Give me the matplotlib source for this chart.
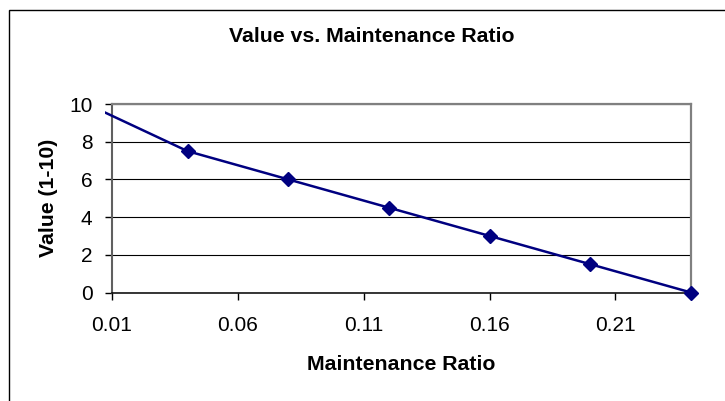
import matplotlib.pyplot as plt
from matplotlib.patches import Rectangle

plt.rcParams['font.family'] = ['Liberation Sans', 'DejaVu Sans']

# data
ratio = [0.0, 0.04, 0.08, 0.12, 0.16, 0.20, 0.24]
value = [10, 7.5, 6, 4.5, 3, 1.5, 0]
xticks = [0.01, 0.06, 0.11, 0.16, 0.21]
yticks = [0, 2, 4, 6, 8, 10]

fig = plt.figure(figsize=(7.25, 4.01), dpi=100)
ax = fig.add_axes([112 / 725, 1 - 292.5 / 401, 579 / 725, 188.5 / 401])

# chart area border (only left and top visible in the crop)
fig.patches.append(Rectangle((9 / 725, -0.1), 1.2, 1 - 10 / 401 + 0.1,
                             transform=fig.transFigure, fill=False,
                             edgecolor='black', linewidth=1))

line, = ax.plot(ratio, value, color='#000080', linewidth=1.8, marker='D',
                markersize=7.5, markeredgewidth=1, zorder=3)
clip = Rectangle((-0.012, -0.1), 1.1, 1.2, transform=ax.transAxes)
line.set_clip_path(clip)

ax.set_xlim(0.01, 0.24)
ax.set_ylim(0, 10)
ax.set_xticks(xticks)
ax.set_xticklabels([f'{t:.2f}' for t in xticks])
ax.set_yticks(yticks)

ax.set_axisbelow(True)
ax.yaxis.grid(True, color='black', linewidth=0.8)

for s in ['top', 'right']:
    ax.spines[s].set_color('#808080')
    ax.spines[s].set_linewidth(1.6)
ax.spines['left'].set_color('#606060')
ax.spines['left'].set_linewidth(1.5)
ax.spines['bottom'].set_color('black')
ax.spines['bottom'].set_linewidth(1.1)

ax.tick_params(axis='x', length=5, width=1, pad=12, labelsize=15)
ax.tick_params(axis='y', length=5, width=1, pad=9, labelsize=15)

ax.set_xlabel('Maintenance Ratio', fontsize=15.3, fontweight='bold', labelpad=14)
ax.set_ylabel('Value (1-10)', fontsize=15.3, fontweight='bold', labelpad=8)
fig.text(372 / 725, 1 - 37 / 401, 'Value vs. Maintenance Ratio', fontsize=15.3,
         fontweight='bold', ha='center', va='center')

fig.savefig('out.png', dpi=100)
